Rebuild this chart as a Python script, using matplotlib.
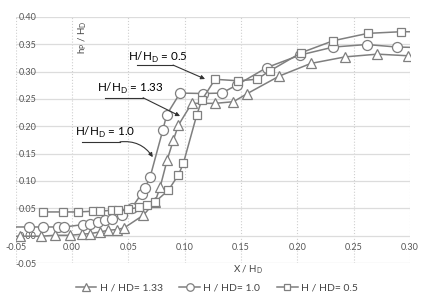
import matplotlib.pyplot as plt
from matplotlib.ticker import MultipleLocator

plt.rcParams["font.family"] = ["Lato", "DejaVu Sans"]

# H/HD = 1.33 (triangles)
x_133 = [-0.055, -0.0462, -0.0278, -0.0151, -0.0018, 0.0086, 0.016, 0.0249, 0.0322,
         0.0397, 0.0462, 0.0633, 0.0737, 0.0782, 0.0844, 0.090, 0.0944, 0.1063,
         0.127, 0.1433, 0.1557, 0.1841, 0.212, 0.2425, 0.2711, 0.2987]
y_133 = [-0.001, -0.001, -0.001, 0.0007, 0.0007, 0.0026, 0.0038, 0.0068, 0.0099,
         0.0112, 0.0141, 0.0374, 0.0617, 0.0886, 0.138, 0.175, 0.202, 0.242,
         0.242, 0.245, 0.260, 0.292, 0.315, 0.327, 0.332, 0.329]

# H/HD = 1.0 (circles)
x_10 = [-0.055, -0.0379, -0.0255, -0.0122, -0.0068, 0.0100, 0.0160, 0.0228, 0.0293,
        0.0353, 0.0441, 0.0530, 0.0619, 0.0648, 0.0693, 0.0806, 0.0841, 0.0959,
        0.1163, 0.1329, 0.1463, 0.1729, 0.2025, 0.2321, 0.2617, 0.2884, 0.31]
y_10 = [0.0159, 0.0159, 0.0159, 0.0159, 0.0159, 0.0203, 0.0222, 0.0251, 0.0282,
        0.0313, 0.0374, 0.0511, 0.0771, 0.0877, 0.107, 0.193, 0.2214, 0.2608,
        0.260, 0.2608, 0.2755, 0.3075, 0.3304, 0.345, 0.3496, 0.345, 0.344]

# H/HD = 0.5 (squares)
x_05 = [-0.0255, -0.0077, 0.0056, 0.0184, 0.0249, 0.0353, 0.0411, 0.050, 0.0598,
        0.0663, 0.0737, 0.0855, 0.0944, 0.0988, 0.1107, 0.1152, 0.127, 0.1472,
        0.164, 0.1758, 0.2034, 0.232, 0.2626, 0.2919, 0.31]
y_05 = [0.0434, 0.0434, 0.0434, 0.0447, 0.0447, 0.0465, 0.0465, 0.0484, 0.052,
        0.0557, 0.0617, 0.083, 0.111, 0.132, 0.2205, 0.248, 0.286, 0.2833,
        0.286, 0.3016, 0.3346, 0.3566, 0.370, 0.373, 0.373]

gray = "#7f7f7f"
fig = plt.figure(figsize=(4.29, 3.03), dpi=100, facecolor="white")
ax = fig.add_axes([0.0366, 0.132, 0.919, 0.812])

style = dict(color=gray, lw=1.1, mfc="white", mec=gray, mew=0.9, clip_on=True)
ax.plot(x_133, y_133, marker="^", ms=7.5, label="H / HD= 1.33", **style)
ax.plot(x_10, y_10, marker="o", ms=7.2, label="H / HD= 1.0", **style)
ax.plot(x_05, y_05, marker="s", ms=6.2, label="H / HD= 0.5", **style)

ax.set_xlim(-0.05, 0.30)
ax.set_ylim(-0.05, 0.40)
ax.xaxis.set_major_locator(MultipleLocator(0.05))
ax.yaxis.set_major_locator(MultipleLocator(0.05))
ax.xaxis.set_major_formatter(lambda v, p: f"{v:.2f}")
ax.yaxis.set_major_formatter(lambda v, p: f"{v:.2f}")
ax.grid(axis="y", color="#dcdcdc", lw=0.9, ls="-", zorder=0)
ax.grid(axis="x", color="#cfcfcf", lw=0.8, ls=":", zorder=0)
ax.set_axisbelow(True)

for s in ax.spines.values():
    s.set_visible(False)
ax.spines["left"].set_position(("data", -0.03))
ax.spines["bottom"].set_position(("data", 0.0))
ax.tick_params(length=0, labelsize=6.5, labelcolor="#555555")
ax.tick_params(axis="y", pad=1)
ax.tick_params(axis="x", pad=5)

ax.text(0.0098, 0.363, "h$_\\mathregular{P}$ / H$_\\mathregular{D}$", rotation=90,
        ha="center", va="center", fontsize=7, color="#444444")
ax.text(0.156, -0.0615, "X / H$_\\mathregular{D}$", ha="center", va="center",
        fontsize=7, color="#444444", clip_on=False)

# labels with leader lines
labels = [
    ("H/H$_\\mathregular{D}$ = 0.5", (0.0764, 0.3267), (0.0577, 0.0897, 0.312), (0.1181, 0.2865), 0.0),
    ("H/H$_\\mathregular{D}$ = 1.33", (0.0515, 0.270), (0.0293, 0.0631, 0.2522), (0.0959, 0.2187), 0.0),
    ("H/H$_\\mathregular{D}$ = 1.0", (0.0293, 0.1894), (0.0089, 0.0426, 0.1716), (0.0717, 0.1436), -0.3),
]
for txt, tpos, (ux0, ux1, uy), head, rad in labels:
    ax.text(tpos[0], tpos[1], txt, ha="center", va="center", fontsize=8.4, color="black")
    ax.plot([ux0, ux1], [uy, uy], color="#333333", lw=0.8)
    ax.annotate("", xy=head, xytext=(ux1, uy),
                arrowprops=dict(arrowstyle="-|>", color="#333333", lw=0.8,
                                mutation_scale=6, shrinkA=0, shrinkB=0,
                                connectionstyle=f"arc3,rad={rad}"))

fig.legend(loc="center", bbox_to_anchor=(0.505, 0.05), ncol=3, frameon=False,
           fontsize=7.5, handlelength=2.0, columnspacing=1.6, handletextpad=0.3,
           markerscale=0.75, labelcolor="#444444")

fig.savefig("out.png", dpi=100)
